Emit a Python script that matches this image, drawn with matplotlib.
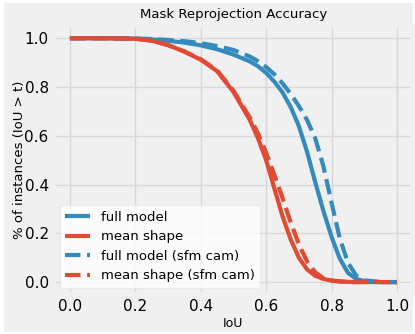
import numpy as np
import matplotlib
matplotlib.use("Agg")
import matplotlib.pyplot as plt
from matplotlib.patches import Rectangle

plt.style.use("fivethirtyeight")

# ── data ─────────────────────────────────────────────────────────────────────
iou = [0.0, 0.1, 0.2, 0.25, 0.3, 0.35, 0.4, 0.45, 0.5, 0.55, 0.575, 0.6, 0.625,
       0.65, 0.675, 0.7, 0.725, 0.75, 0.775, 0.8, 0.825, 0.85, 0.875, 0.9,
       0.95, 1.0]

full_model = [1.0, 1.0, 0.998, 0.995, 0.99, 0.982, 0.971, 0.955, 0.933, 0.905,
              0.885, 0.858, 0.822, 0.778, 0.718, 0.64, 0.535, 0.41, 0.292, 0.185,
              0.097, 0.038, 0.013, 0.004, 0.0, 0.0]
mean_shape = [1.0, 1.0, 0.998, 0.99, 0.972, 0.945, 0.912, 0.865, 0.78, 0.665,
              0.59, 0.5, 0.385, 0.27, 0.175, 0.1, 0.052, 0.026, 0.013, 0.006,
              0.003, 0.001, 0.0, 0.0, 0.0, 0.0]
full_model_sfm = [1.0, 1.0, 0.999, 0.997, 0.993, 0.988, 0.98, 0.968, 0.952,
                  0.925, 0.906, 0.882, 0.852, 0.815, 0.772, 0.722, 0.665, 0.59,
                  0.475, 0.325, 0.18, 0.08, 0.027, 0.007, 0.0, 0.0]
mean_shape_sfm = [1.0, 1.0, 0.998, 0.99, 0.972, 0.946, 0.914, 0.868, 0.785,
                  0.675, 0.61, 0.53, 0.44, 0.345, 0.245, 0.155, 0.085, 0.04,
                  0.016, 0.006, 0.002, 0.0, 0.0, 0.0, 0.0, 0.0]

BLUE = "#348ABD"
RED = "#E24A33"

fig = plt.figure(figsize=(4.15, 3.34), dpi=100)
fig.patch.set_facecolor("white")
# light grey canvas with a thin white margin, as in the reference
fig.patches.append(Rectangle((4 / 415, 2 / 334), 409 / 415, 329 / 334,
                             transform=fig.transFigure, facecolor="#f0f0f0",
                             edgecolor="none", zorder=-10))
ax = fig.add_axes([0.129, 0.119, 0.867, 0.803])
ax.set_facecolor("#f0f0f0")

ax.plot(iou, full_model, color=BLUE, lw=3, label="full model")
ax.plot(iou, mean_shape, color=RED, lw=3, label="mean shape")
ax.plot(iou, full_model_sfm, color=BLUE, lw=3, ls="--", label="full model (sfm cam)")
ax.plot(iou, mean_shape_sfm, color=RED, lw=3, ls="--", label="mean shape (sfm cam)")

ax.set_xlim(-0.05, 1.05)
ax.set_ylim(-0.05, 1.05)
ax.set_xticks(np.arange(0, 1.01, 0.2))
ax.set_yticks(np.arange(0, 1.01, 0.2))
ax.tick_params(labelsize=11)
ax.grid(color="#d8d8d8", lw=1)
ax.set_title("Mask Reprojection Accuracy", fontsize=9.5)
ax.set_xlabel("IoU", fontsize=9, labelpad=2)
ax.set_ylabel("% of instances (IoU > t)", fontsize=9.5, labelpad=-1)

leg = ax.legend(loc="lower left", fontsize=9.5, frameon=True, facecolor="white",
                edgecolor="#e0e0e0", framealpha=0.8, handlelength=1.9)

fig.savefig("out.png", dpi=100, facecolor=fig.get_facecolor())
